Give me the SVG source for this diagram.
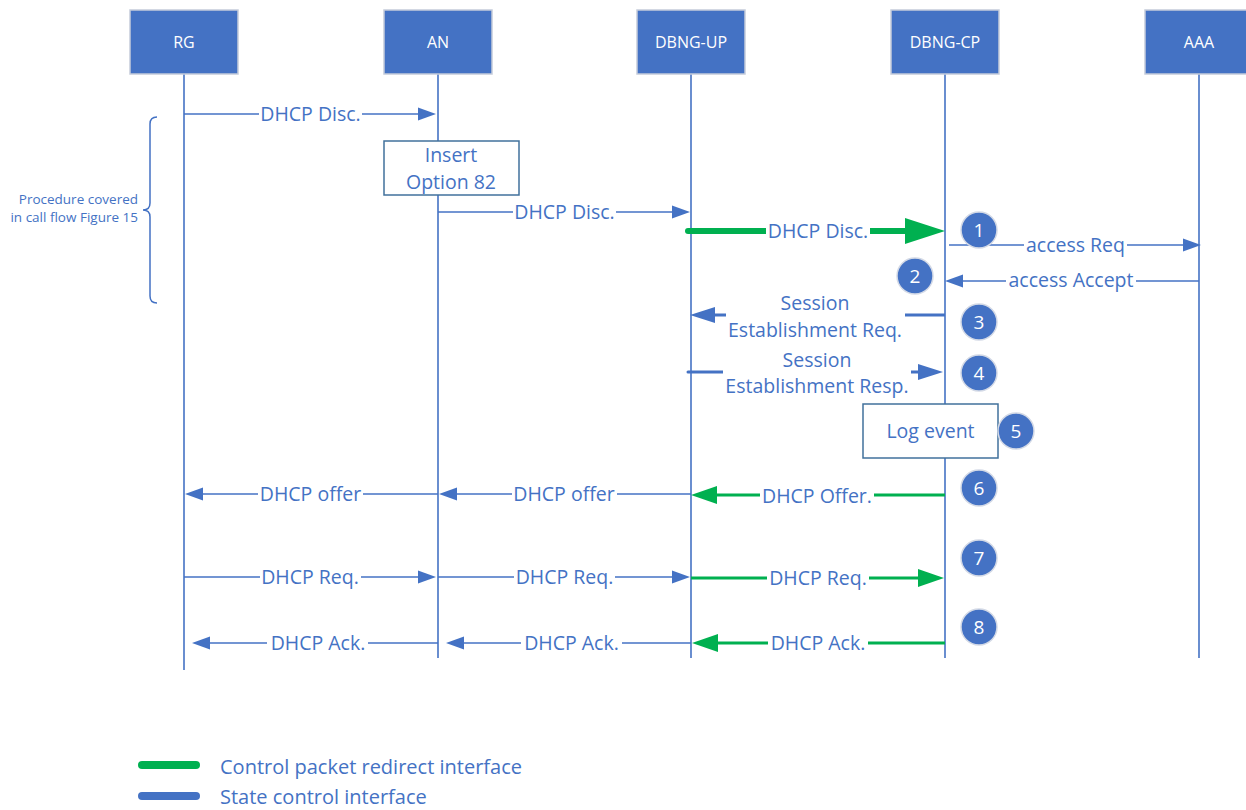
<svg xmlns="http://www.w3.org/2000/svg" width="1246" height="810" viewBox="0 0 1246 810">
<style>
.hdr{fill:#4472C4;stroke:#C5CCDA;stroke-width:1.5}
.hdrt{fill:#FFFFFF;font-family:"Open Sans","Liberation Sans",sans-serif;font-size:16px;text-anchor:middle}
.life{stroke:#4472C4;stroke-width:1.6;fill:none}
.msg{stroke:#4472C4;stroke-width:1.5;fill:none}
.msg3{stroke:#4472C4;stroke-width:3;fill:none;stroke-linecap:round}
.g6{stroke:#00B050;stroke-width:6;fill:none;stroke-linecap:round}
.g3{stroke:#00B050;stroke-width:3;fill:none}
.lbl{fill:#4472C4;font-family:"Open Sans","Liberation Sans",sans-serif;font-size:19.5px;text-anchor:middle}
.bg{fill:#FFFFFF}
.box{fill:#FFFFFF;stroke:#41719C;stroke-width:1.5}
.num{fill:#4472C4;stroke:#D3D9E6;stroke-width:1.5}
.numt{fill:#FFFFFF;font-family:"Open Sans","Liberation Sans",sans-serif;font-size:19px;text-anchor:middle}
.small{fill:#4472C4;font-family:"Open Sans","Liberation Sans",sans-serif;font-size:13.5px;text-anchor:end}
.leg{fill:#4472C4;font-family:"Open Sans","Liberation Sans",sans-serif;font-size:20px}
</style>
<defs>
<marker id="aB" markerUnits="userSpaceOnUse" markerWidth="18" markerHeight="13" refX="0" refY="6.5" orient="auto" overflow="visible"><path d="M0,0 L18,6.5 L0,13 z" fill="#4472C4"/></marker>
<marker id="aB3" markerUnits="userSpaceOnUse" markerWidth="25" markerHeight="16" refX="0" refY="8" orient="auto" overflow="visible"><path d="M0,0 L25,8 L0,16 z" fill="#4472C4"/></marker>
<marker id="aGb" markerUnits="userSpaceOnUse" markerWidth="40" markerHeight="26" refX="0" refY="13" orient="auto" overflow="visible"><path d="M0,0 L40,13 L0,26 z" fill="#00B050"/></marker>
<marker id="aGs" markerUnits="userSpaceOnUse" markerWidth="26" markerHeight="18" refX="0" refY="9" orient="auto" overflow="visible"><path d="M0,0 L26,9 L0,18 z" fill="#00B050"/></marker>
</defs>
<rect width="1246" height="810" fill="#FFFFFF"/>

<g id="lifelines">
<line class="life" x1="184" y1="74" x2="184" y2="670"/>
<line class="life" x1="438" y1="74" x2="438" y2="658"/>
<line class="life" x1="691" y1="74" x2="691" y2="658"/>
<line class="life" x1="945" y1="74" x2="945" y2="658"/>
<line class="life" x1="1199" y1="74" x2="1199" y2="658"/>
</g>

<g id="node-RG"><rect class="hdr" x="130" y="10" width="108" height="64"/><text class="hdrt" x="184" y="48">RG</text></g>
<g id="node-AN"><rect class="hdr" x="384" y="10" width="108" height="64"/><text class="hdrt" x="438" y="48">AN</text></g>
<g id="node-DBNG-UP"><rect class="hdr" x="637" y="10" width="108" height="64"/><text class="hdrt" x="691" y="48">DBNG-UP</text></g>
<g id="node-DBNG-CP"><rect class="hdr" x="891" y="10" width="108" height="64"/><text class="hdrt" x="945" y="48">DBNG-CP</text></g>
<g id="node-AAA"><rect class="hdr" x="1145" y="10" width="108" height="64"/><text class="hdrt" x="1199" y="48">AAA</text></g>

<g id="brace">
<path d="M157,117 Q150,117 150,124 L150,203 Q150,210 143,210 Q150,210 150,217 L150,296 Q150,303 157,303" fill="none" stroke="#4472C4" stroke-width="1.5"/>
<text class="small" x="138" y="204">Procedure covered</text>
<text class="small" x="138" y="222">in call flow Figure 15</text>
</g>

<g id="connectors">
<path class="msg" d="M184,114 H418" marker-end="url(#aB)"/>
<path class="msg" d="M438,212 H672" marker-end="url(#aB)"/>
<path class="g6" d="M688,231 H905" marker-end="url(#aGb)"/>
<path class="msg" d="M949,245 H1183" marker-end="url(#aB)"/>
<path class="msg" d="M1199,281 H963" marker-end="url(#aB)"/>
<path class="msg3" style="stroke-linecap:butt" d="M945,315 H715" marker-end="url(#aB3)"/>
<path class="msg3" d="M688,372 H918" marker-end="url(#aB3)"/>
<path class="g3" d="M945,495 H717" marker-end="url(#aGs)"/>
<path class="msg" d="M691,494 H457" marker-end="url(#aB)"/>
<path class="msg" d="M438,494 H203" marker-end="url(#aB)"/>
<path class="msg" d="M184,577 H418" marker-end="url(#aB)"/>
<path class="msg" d="M438,577 H672" marker-end="url(#aB)"/>
<path class="g3" d="M691,578 H918" marker-end="url(#aGs)"/>
<path class="g3" d="M945,643 H718" marker-end="url(#aGs)"/>
<path class="msg" d="M691,643 H464" marker-end="url(#aB)"/>
<path class="msg" d="M438,643 H210" marker-end="url(#aB)"/>
</g>

<g id="labels">
<rect class="bg" x="259" y="104" width="103" height="20"/><text class="lbl" x="310.5" y="121">DHCP Disc.</text>
<rect class="bg" x="513" y="202" width="103" height="20"/><text class="lbl" x="564.5" y="219">DHCP Disc.</text>
<rect class="bg" x="766" y="220" width="104" height="22"/><text class="lbl" x="818" y="238">DHCP Disc.</text>
<rect class="bg" x="1024" y="235" width="103" height="20"/><text class="lbl" x="1075.5" y="252">access Req</text>
<rect class="bg" x="1006" y="271" width="130" height="20"/><text class="lbl" x="1071" y="287">access Accept</text>
<rect class="bg" x="726" y="305" width="179" height="20"/>
<text class="lbl" x="815" y="310">Session</text><text class="lbl" x="815" y="337">Establishment Req.</text>
<rect class="bg" x="723" y="362" width="188" height="20"/>
<text class="lbl" x="817" y="367">Session</text><text class="lbl" x="817" y="393">Establishment Resp.</text>
<rect class="bg" x="760" y="485" width="114" height="20"/><text class="lbl" x="817" y="503">DHCP Offer.</text>
<rect class="bg" x="512" y="484" width="105" height="20"/><text class="lbl" x="564" y="501">DHCP offer</text>
<rect class="bg" x="258" y="484" width="105" height="20"/><text class="lbl" x="310.5" y="501">DHCP offer</text>
<rect class="bg" x="260" y="567" width="101" height="20"/><text class="lbl" x="310" y="584">DHCP Req.</text>
<rect class="bg" x="514" y="567" width="101" height="20"/><text class="lbl" x="564.5" y="584">DHCP Req.</text>
<rect class="bg" x="767" y="568" width="102" height="20"/><text class="lbl" x="818" y="585">DHCP Req.</text>
<rect class="bg" x="768" y="633" width="100" height="20"/><text class="lbl" x="818" y="650">DHCP Ack.</text>
<rect class="bg" x="521" y="633" width="101" height="20"/><text class="lbl" x="571.5" y="650">DHCP Ack.</text>
<rect class="bg" x="267" y="633" width="101" height="20"/><text class="lbl" x="318" y="650">DHCP Ack.</text>
</g>

<g id="node-insert"><rect class="box" x="384" y="141" width="135" height="54"/><text class="lbl" x="451" y="162">Insert</text><text class="lbl" x="451" y="189">Option 82</text></g>
<g id="node-log"><rect class="box" x="863" y="404" width="135" height="54"/><text class="lbl" x="930.5" y="438">Log event</text></g>

<g id="step-1"><circle class="num" cx="979" cy="230" r="18"/><text class="numt" x="979" y="237">1</text></g>
<g id="step-2"><circle class="num" cx="915" cy="276" r="18"/><text class="numt" x="915" y="283">2</text></g>
<g id="step-3"><circle class="num" cx="979" cy="322" r="18"/><text class="numt" x="979" y="329">3</text></g>
<g id="step-4"><circle class="num" cx="979" cy="373" r="18"/><text class="numt" x="979" y="380">4</text></g>
<g id="step-5"><circle class="num" cx="1016" cy="431" r="18"/><text class="numt" x="1016" y="438">5</text></g>
<g id="step-6"><circle class="num" cx="979" cy="488" r="18"/><text class="numt" x="979" y="495">6</text></g>
<g id="step-7"><circle class="num" cx="979" cy="558" r="18"/><text class="numt" x="979" y="565">7</text></g>
<g id="step-8"><circle class="num" cx="979" cy="627" r="18"/><text class="numt" x="979" y="634">8</text></g>

<g id="legend">
<line x1="142" y1="765" x2="196" y2="765" stroke="#00B050" stroke-width="8" stroke-linecap="round"/>
<text class="leg" x="220" y="774">Control packet redirect interface</text>
<line x1="142" y1="796" x2="196" y2="796" stroke="#4472C4" stroke-width="8" stroke-linecap="round"/>
<text class="leg" x="220" y="804">State control interface</text>
</g>
</svg>
